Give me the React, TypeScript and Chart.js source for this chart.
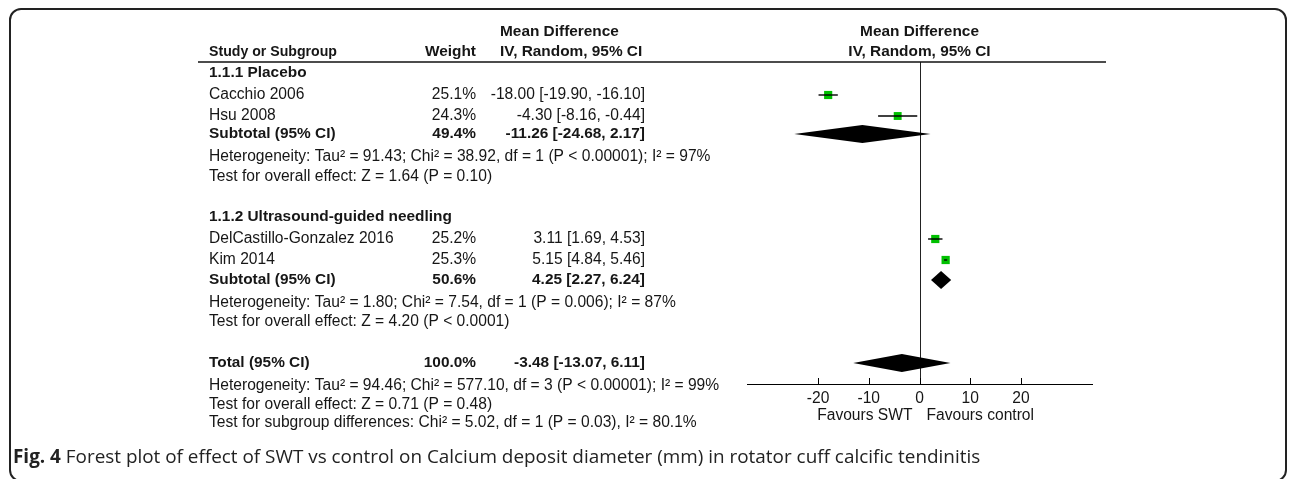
import React, { useEffect, useRef } from "react";
import { Chart, registerables } from "chart.js";

Chart.register(...registerables);

// ---------------- DATA ----------------
const STUDY_NAMES = ["Cacchio 2006", "Hsu 2008", "DelCastillo-Gonzalez 2016", "Kim 2014"];
const STUDY_GROUP = [0, 0, 1, 1];
const STUDY_WEIGHT = [25.1, 24.3, 25.2, 25.3];
const STUDY_MD = [-18.0, -4.3, 3.11, 5.15];
const STUDY_LO = [-19.9, -8.16, 1.69, 4.84];
const STUDY_HI = [-16.1, -0.44, 4.53, 5.46];

const GROUP_NAMES = ["1.1.1 Placebo", "1.1.2 Ultrasound-guided needling"];
const GROUP_WEIGHT = [49.4, 50.6];
const GROUP_MD = [-11.26, 4.25];
const GROUP_LO = [-24.68, 2.27];
const GROUP_HI = [2.17, 6.24];
const GROUP_HET = [
  "Heterogeneity: Tau\u00B2 = 91.43; Chi\u00B2 = 38.92, df = 1 (P < 0.00001); I\u00B2 = 97%",
  "Heterogeneity: Tau\u00B2 = 1.80; Chi\u00B2 = 7.54, df = 1 (P = 0.006); I\u00B2 = 87%",
];
const GROUP_TEST = [
  "Test for overall effect: Z = 1.64 (P = 0.10)",
  "Test for overall effect: Z = 4.20 (P < 0.0001)",
];

const TOTAL_LABEL = ["Total (95% CI)"];
const TOTAL_WEIGHT = [100.0];
const TOTAL_MD = [-3.48];
const TOTAL_LO = [-13.07];
const TOTAL_HI = [6.11];
const TOTAL_NOTES = [
  "Heterogeneity: Tau\u00B2 = 94.46; Chi\u00B2 = 577.10, df = 3 (P < 0.00001); I\u00B2 = 99%",
  "Test for overall effect: Z = 0.71 (P = 0.48)",
  "Test for subgroup differences: Chi\u00B2 = 5.02, df = 1 (P = 0.03), I\u00B2 = 80.1%",
];

const X_TICKS = [-20, -10, 0, 10, 20];
const X_LIMITS = [-34, 34];
const FAVOURS = ["Favours SWT", "Favours control"];
const HEADERS = {
  study: "Study or Subgroup",
  weight: "Weight",
  md1: "Mean Difference",
  md2: "IV, Random, 95% CI",
};
const CAPTION_BOLD = "Fig. 4";
const CAPTION_TEXT =
  " Forest plot of effect of SWT vs control on Calcium deposit diameter (mm) in rotator cuff calcific tendinitis";

// ---------------- LAYOUT ----------------
const W = 1292;
const H = 479;
const PLOT_LEFT = 747;
const PLOT_RIGHT = 1092;
const PLOT_TOP = 62;
const PLOT_BOTTOM = 384;
const Y_MAX = 16.1; // row units (20px per unit)
// vertical slot of each of the 16 table rows, in row units
const ROW_SLOTS = [0.55, 1.65, 2.7, 3.6, 4.75, 5.75, 7.75, 8.85, 9.9, 10.9, 12.05, 13.0, 15.05, 16.2, 17.15, 18.05];
const COL_STUDY = 209;
const COL_WEIGHT_R = 476;
const COL_EST_R = 645;
const COL_HDR_MD = 500;
const STUDY_HDR_MAXW = 128;
const HEADER_LINE_X = [198, 1106];
const TEXT_COLOR = "#161616";
const FONT_FAMILY = "'Liberation Sans', Arial, sans-serif";
const FONT_SIZE = 15.6;
const BOLD_SIZE = 15.4;
const GREEN = "#00c000";

type Row = {
  kind: "group" | "study" | "subtotal" | "note" | "total";
  label: string;
  weight?: number;
  md?: number;
  lo?: number;
  hi?: number;
  slot: number;
};

function buildRows(): Row[] {
  const rows: Omit<Row, "slot">[] = [];
  GROUP_NAMES.forEach((g, gi) => {
    rows.push({ kind: "group", label: g });
    STUDY_NAMES.forEach((s, si) => {
      if (STUDY_GROUP[si] === gi)
        rows.push({ kind: "study", label: s, weight: STUDY_WEIGHT[si], md: STUDY_MD[si], lo: STUDY_LO[si], hi: STUDY_HI[si] });
    });
    rows.push({ kind: "subtotal", label: "Subtotal (95% CI)", weight: GROUP_WEIGHT[gi], md: GROUP_MD[gi], lo: GROUP_LO[gi], hi: GROUP_HI[gi] });
    rows.push({ kind: "note", label: GROUP_HET[gi] });
    rows.push({ kind: "note", label: GROUP_TEST[gi] });
  });
  TOTAL_LABEL.forEach((t, i) => {
    rows.push({ kind: "total", label: t, weight: TOTAL_WEIGHT[i], md: TOTAL_MD[i], lo: TOTAL_LO[i], hi: TOTAL_HI[i] });
  });
  TOTAL_NOTES.forEach((n) => rows.push({ kind: "note", label: n }));
  return rows.map((r, i) => ({ ...r, slot: ROW_SLOTS[i] }));
}

const fmtEst = (md: number, lo: number, hi: number) => `${md.toFixed(2)} [${lo.toFixed(2)}, ${hi.toFixed(2)}]`;

export default function App() {
  const ref = useRef<HTMLCanvasElement | null>(null);

  useEffect(() => {
    if (!ref.current) return;
    const rows = buildRows();
    const studyRows = rows.filter((r) => r.kind === "study");
    const diamondRows = rows.filter((r) => r.kind === "subtotal" || r.kind === "total");

    const ciDatasets = studyRows.map((r) => ({
      type: "line" as const,
      data: [
        { x: r.lo!, y: r.slot },
        { x: r.hi!, y: r.slot },
      ],
      borderColor: "#000",
      borderWidth: 1.4,
      pointRadius: 0,
      showLine: true,
      fill: false,
    }));

    const squares = {
      type: "scatter" as const,
      data: studyRows.map((r) => ({ x: r.md!, y: r.slot })),
      pointStyle: "rect",
      pointRadius: studyRows.map((r) => r.weight! * 0.23),
      backgroundColor: GREEN,
      borderColor: GREEN,
      borderWidth: 0,
    };

    const font = (bold: boolean) => (bold ? `bold ${BOLD_SIZE}px ${FONT_FAMILY}` : `${FONT_SIZE}px ${FONT_FAMILY}`);

    const forestPlugin = {
      id: "forest",
      beforeDatasetsDraw(chart: any) {
        const { ctx, chartArea, scales } = chart;
        const x0 = Math.round(scales.x.getPixelForValue(0)) + 0.5;
        ctx.save();
        ctx.strokeStyle = "#222";
        ctx.lineWidth = 1;
        ctx.beginPath();
        ctx.moveTo(x0, chartArea.top);
        ctx.lineTo(x0, chartArea.bottom);
        ctx.stroke();
        // header line
        ctx.strokeStyle = "#111";
        ctx.lineWidth = 1.3;
        ctx.beginPath();
        ctx.moveTo(HEADER_LINE_X[0], chartArea.top);
        ctx.lineTo(HEADER_LINE_X[1], chartArea.top);
        ctx.stroke();
        // tick marks (upward)
        ctx.strokeStyle = "#000";
        ctx.lineWidth = 1;
        X_TICKS.forEach((t) => {
          const xp = Math.round(scales.x.getPixelForValue(t)) + 0.5;
          ctx.beginPath();
          ctx.moveTo(xp, chartArea.bottom - 6);
          ctx.lineTo(xp, chartArea.bottom);
          ctx.stroke();
        });
        ctx.restore();
      },
      afterDatasetsDraw(chart: any) {
        const { ctx, chartArea, scales } = chart;
        const xs = scales.x;
        const ys = scales.y;
        ctx.save();
        // diamonds
        ctx.fillStyle = "#000";
        diamondRows.forEach((r) => {
          const y = ys.getPixelForValue(r.slot);
          const xl = xs.getPixelForValue(r.lo!);
          const xm = xs.getPixelForValue(r.md!);
          const xh = xs.getPixelForValue(r.hi!);
          const hh = 9;
          ctx.beginPath();
          ctx.moveTo(xl, y);
          ctx.lineTo(xm, y - hh);
          ctx.lineTo(xh, y);
          ctx.lineTo(xm, y + hh);
          ctx.closePath();
          ctx.fill();
        });

        // headers
        ctx.fillStyle = TEXT_COLOR;
        ctx.textBaseline = "middle";
        ctx.font = font(true);
        const hy1 = chartArea.top - 30;
        const hy2 = chartArea.top - 10;
        ctx.textAlign = "left";
        ctx.fillText(HEADERS.study, COL_STUDY, hy2, STUDY_HDR_MAXW);
        ctx.fillText(HEADERS.md1, COL_HDR_MD, hy1);
        ctx.fillText(HEADERS.md2, COL_HDR_MD, hy2);
        ctx.textAlign = "right";
        ctx.fillText(HEADERS.weight, COL_WEIGHT_R, hy2);
        ctx.textAlign = "center";
        const xc = xs.getPixelForValue(0);
        ctx.fillText(HEADERS.md1, xc, hy1);
        ctx.fillText(HEADERS.md2, xc, hy2);

        // rows
        rows.forEach((r) => {
          const y = ys.getPixelForValue(r.slot);
          const bold = r.kind === "group" || r.kind === "subtotal" || r.kind === "total";
          ctx.font = font(bold);
          ctx.textAlign = "left";
          ctx.fillText(r.label, COL_STUDY, y);
          if (r.weight !== undefined) {
            ctx.textAlign = "right";
            ctx.fillText(`${r.weight.toFixed(1)}%`, COL_WEIGHT_R, y);
            ctx.fillText(fmtEst(r.md!, r.lo!, r.hi!), COL_EST_R, y);
          }
        });

        // favours labels
        ctx.font = font(false);
        const fy = chartArea.bottom + 32;
        ctx.textAlign = "right";
        ctx.fillText(FAVOURS[0], xc - 7, fy);
        ctx.textAlign = "left";
        ctx.fillText(FAVOURS[1], xc + 7, fy);
        ctx.restore();
      },
    };

    Chart.defaults.font.family = FONT_FAMILY;
    const chart = new Chart(ref.current, {
      type: "scatter",
      data: { datasets: [...ciDatasets, squares] as any },
      options: {
        animation: false,
        responsive: false,
        maintainAspectRatio: false,
        events: [],
        layout: { padding: { left: PLOT_LEFT, right: W - PLOT_RIGHT, top: PLOT_TOP, bottom: 0 } },
        plugins: { legend: { display: false }, tooltip: { enabled: false } },
        scales: {
          x: {
            type: "linear",
            min: X_LIMITS[0],
            max: X_LIMITS[1],
            afterBuildTicks: (s: any) => {
              s.ticks = X_TICKS.map((v) => ({ value: v }));
            },
            afterFit: (s: any) => {
              s.height = H - PLOT_BOTTOM;
            },
            grid: { display: false, drawTicks: false },
            border: { display: true, color: "#000", width: 1 },
            ticks: {
              color: TEXT_COLOR,
              font: { size: FONT_SIZE, family: FONT_FAMILY },
              padding: 5,
              autoSkip: false,
              maxRotation: 0,
              callback: (v: any) => String(v),
            },
          },
          y: { type: "linear", display: false, min: 0, max: Y_MAX, reverse: true },
        },
      } as any,
      plugins: [forestPlugin],
    });
    return () => chart.destroy();
  }, []);

  return (
    <div style={{ position: "absolute", left: 0, top: 0, width: W, height: H, background: "#fff", overflow: "hidden" }}>
      <div
        style={{
          position: "absolute",
          left: 9,
          top: 8,
          width: 1278,
          height: 474,
          boxSizing: "border-box",
          border: "2px solid #222",
          borderRadius: 12,
        }}
      />
      <canvas ref={ref} width={W} height={H} style={{ position: "absolute", left: 0, top: 0, width: W, height: H }} />
      <div
        style={{
          position: "absolute",
          left: 13,
          top: 444,
          fontFamily: "'Open Sans', sans-serif",
          fontSize: 18.9,
          lineHeight: "24px",
          color: "#222",
          whiteSpace: "nowrap",
        }}
      >
        <b>{CAPTION_BOLD}</b>
        {CAPTION_TEXT}
      </div>
    </div>
  );
}
